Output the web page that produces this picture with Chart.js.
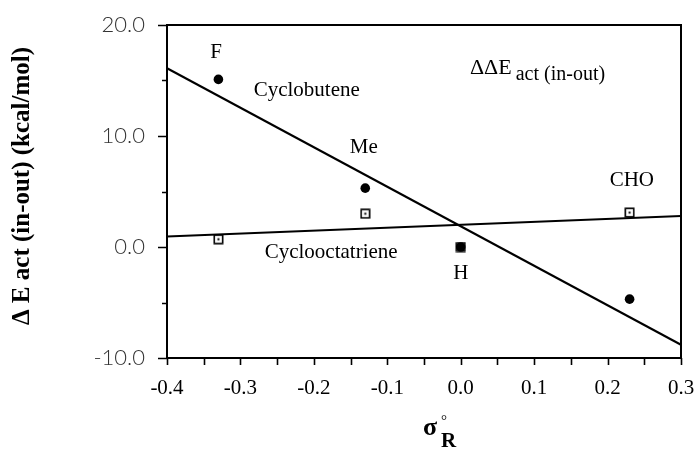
<!DOCTYPE html>
<html>
<head>
<meta charset="utf-8">
<script src="https://cdn.jsdelivr.net/npm/chart.js@4.4.0/dist/chart.umd.min.js"></script>
<style>
  html, body { margin: 0; padding: 0; background: #fff; }
  #wrap { width: 700px; height: 451px; }
</style>
</head>
<body>
<div id="wrap"><canvas id="chart"></canvas></div>
<script>
// substituent parameters and activation energy differences (kcal/mol)
const sigmaR          = [-0.33, -0.13, 0.0, 0.23];
const substituents    = ["F", "Me", "H", "CHO"];
const cyclobutene     = [15.1, 5.3, 0.0, -4.7];
const cyclooctatriene = [0.7, 3.0, 0.0, 3.1];

// least-squares lines, end points at the axis limits
const fitX               = [-0.4, 0.3];
const cyclobuteneFit     = [16.1, -8.8];
const cyclooctatrieneFit = [0.95, 2.8];

// axis limits and tick values
const xMin = -0.4, xMax = 0.3;
const yMin = -10, yMax = 20;
const xMinorTicks = [-0.4, -0.35, -0.3, -0.25, -0.2, -0.15, -0.1, -0.05, 0, 0.05, 0.1, 0.15, 0.2, 0.25, 0.3];
const yMajorTicks = [-10, 0, 10, 20];
const yMinorTicks = [-5, 5, 15];

// text placed inside the plot, in data units
const labels = [
  { text: "F",               x: -0.333, y: 17.5,  align: "center" },
  { text: "Me",              x: -0.132, y: 9.0,   align: "center" },
  { text: "H",               x: 0.0,    y: -2.35, align: "center" },
  { text: "CHO",             x: 0.233,  y: 6.0,   align: "center" },
  { text: "Cyclobutene",     x: -0.282, y: 14.1,  align: "left" },
  { text: "Cyclooctatriene", x: -0.267, y: -0.45, align: "left" }
];
const panelTitle = { main: "ΔΔE", sub: "act (in-out)", x: 0.0126, y: 16.1 };

const serif = "'Liberation Serif', 'Times New Roman', serif";

// open square with a dot in the middle
function squareDot() {
  const c = document.createElement("canvas");
  c.width = 11; c.height = 11;
  const g = c.getContext("2d");
  g.strokeStyle = "#000";
  g.lineWidth = 1.6;
  g.strokeRect(1.3, 1.3, 8.4, 8.4);
  g.fillStyle = "#000";
  g.fillRect(4.5, 4.5, 2, 2);
  return c;
}

const toPoints = (xs, ys) => xs.map((x, i) => ({ x, y: ys[i] }));
const fmt1 = v => (Math.abs(v) < 1e-9 ? 0 : v).toFixed(1);

const decorations = {
  id: "decorations",
  afterDraw(chart) {
    const { ctx, chartArea: a, scales: { x, y } } = chart;
    ctx.save();

    // frame
    ctx.strokeStyle = "#000";
    ctx.lineWidth = 2;
    ctx.strokeRect(a.left, a.top, a.right - a.left, a.bottom - a.top);

    // tick marks, drawn outward
    ctx.lineWidth = 1.6;
    ctx.beginPath();
    xMinorTicks.forEach(v => {
      const px = Math.round(x.getPixelForValue(v)) + 0.5;
      ctx.moveTo(px, a.bottom);
      ctx.lineTo(px, a.bottom + 7);
    });
    yMajorTicks.forEach(v => {
      const py = Math.round(y.getPixelForValue(v)) + 0.5;
      ctx.moveTo(a.left, py);
      ctx.lineTo(a.left - 9, py);
    });
    yMinorTicks.forEach(v => {
      const py = Math.round(y.getPixelForValue(v)) + 0.5;
      ctx.moveTo(a.left, py);
      ctx.lineTo(a.left - 5, py);
    });
    ctx.stroke();

    // in-plot labels
    ctx.fillStyle = "#000";
    ctx.textBaseline = "middle";
    ctx.font = `21px ${serif}`;
    labels.forEach(l => {
      ctx.textAlign = l.align;
      ctx.fillText(l.text, x.getPixelForValue(l.x), y.getPixelForValue(l.y));
    });

    // ΔΔE act (in-out)
    const tx = x.getPixelForValue(panelTitle.x);
    const ty = y.getPixelForValue(panelTitle.y);
    ctx.textAlign = "left";
    ctx.font = `22px ${serif}`;
    ctx.fillText(panelTitle.main, tx, ty);
    const w = ctx.measureText(panelTitle.main).width;
    ctx.font = `20px ${serif}`;
    ctx.fillText(panelTitle.sub, tx + w + 4, ty + 6);

    // y axis title
    ctx.save();
    ctx.translate(23, 186);
    ctx.rotate(-Math.PI / 2);
    ctx.textAlign = "center";
    ctx.font = `bold 25px ${serif}`;
    ctx.fillText("Δ E act (in-out) (kcal/mol)", 0, 0);
    ctx.restore();

    // x axis title: sigma°R
    ctx.textAlign = "left";
    ctx.font = `bold 26px ${serif}`;
    ctx.fillText("σ", 423, 428);
    ctx.font = `15px ${serif}`;
    ctx.fillText("°", 441, 421);
    ctx.font = `bold 21px ${serif}`;
    ctx.fillText("R", 441, 442);

    ctx.restore();
  }
};

new Chart(document.getElementById("chart"), {
  type: "scatter",
  data: {
    datasets: [
      {
        label: "Cyclobutene fit",
        data: toPoints(fitX, cyclobuteneFit),
        showLine: true,
        borderColor: "#000",
        borderWidth: 2.2,
        pointRadius: 0
      },
      {
        label: "Cyclooctatriene fit",
        data: toPoints(fitX, cyclooctatrieneFit),
        showLine: true,
        borderColor: "#000",
        borderWidth: 2,
        pointRadius: 0
      },
      {
        label: "Cyclobutene",
        data: toPoints(sigmaR, cyclobutene),
        pointStyle: "circle",
        pointRadius: 4.8,
        backgroundColor: "#000",
        borderColor: "#000",
        borderWidth: 0
      },
      {
        label: "Cyclooctatriene",
        data: toPoints(sigmaR, cyclooctatriene),
        pointStyle: squareDot()
      }
    ]
  },
  options: {
    responsive: true,
    maintainAspectRatio: false,
    animation: false,
    events: [],
    layout: { padding: { top: 25, right: 19, left: 0, bottom: 0 } },
    plugins: {
      legend: { display: false },
      tooltip: { enabled: false }
    },
    scales: {
      x: {
        type: "linear",
        min: xMin,
        max: xMax,
        afterFit: s => { s.height = 93; s.paddingLeft = 0; s.paddingRight = 0; },
        grid: { display: true, drawOnChartArea: false, drawTicks: false },
        border: { color: "#000", width: 2 },
        ticks: {
          stepSize: 0.1,
          padding: 18,
          color: "#000",
          font: { family: serif, size: 21 },
          callback: v => fmt1(v)
        }
      },
      y: {
        min: yMin,
        max: yMax,
        afterFit: s => { s.width = 167; s.paddingTop = 0; s.paddingBottom = 0; },
        grid: { display: true, drawOnChartArea: false, drawTicks: false },
        border: { color: "#000", width: 2 },
        ticks: {
          stepSize: 10,
          padding: 22,
          color: "#333",
          font: { family: "Lato, 'Open Sans', sans-serif", size: 22, weight: "300" },
          callback: v => fmt1(v)
        }
      }
    }
  },
  plugins: [decorations]
});
</script>
</body>
</html>
